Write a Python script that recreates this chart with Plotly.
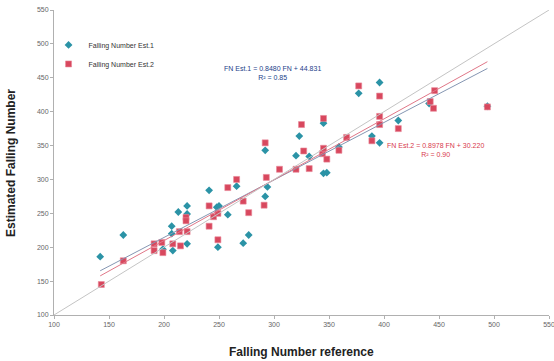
import plotly.graph_objects as go

# Est.1 (teal diamonds): reference FN vs estimated FN
est1_ref = [142, 163, 199, 207, 207, 208, 213, 221, 221, 221, 241, 248, 250, 249, 258,
            266, 272, 277, 292, 294, 292, 323, 320, 332, 345, 345, 348, 359, 377, 396,
            389, 396, 413, 441, 494]
est1_val = [186, 218, 197, 231, 220, 195, 252, 261, 249, 205, 284, 259, 261, 200, 248,
            290, 206, 218, 275, 289, 343, 364, 335, 334, 383, 309, 310, 348, 427, 443,
            364, 354, 387, 412, 408]

# Est.2 (red squares)
est2_ref = [143, 163, 191, 191, 198, 199, 208, 215, 214, 221, 220, 220, 241, 241, 245,
            249, 249, 258, 266, 272, 277, 291, 293, 292, 305, 320, 332, 325, 327, 344,
            345, 348, 359, 345, 366, 377, 396, 396, 396, 389, 413, 446, 442, 445, 494]
est2_val = [145, 180, 205, 195, 207, 192, 205, 202, 223, 223, 244, 239, 261, 231, 245,
            250, 211, 288, 300, 268, 251, 262, 303, 354, 315, 315, 316, 381, 342, 338,
            346, 330, 343, 390, 362, 438, 423, 393, 381, 357, 375, 431, 415, 405, 407]

# trendline equations as printed on the chart
fit1 = (0.8480, 44.831)
fit2 = (0.8978, 30.220)
fit_x = [142, 494]
one_to_one = [100, 550]

ticks = [100, 150, 200, 250, 300, 350, 400, 450, 500, 550]

FONT = "Arial, Liberation Sans, sans-serif"

fig = go.Figure()
fig.add_trace(go.Scatter(
    x=est1_ref, y=est1_val, mode="markers", name="Falling Number Est.1",
    marker=dict(symbol="diamond", size=6, color="#2b93a6"),
))
fig.add_trace(go.Scatter(
    x=est2_ref, y=est2_val, mode="markers", name="Falling Number Est.2",
    marker=dict(symbol="square", size=6, color="#d8485e",
                line=dict(color="#e98898", width=0.6)),
))
fig.add_trace(go.Scatter(
    x=fit_x, y=[fit1[0] * v + fit1[1] for v in fit_x], mode="lines",
    line=dict(color="#8596b2", width=1), showlegend=False, hoverinfo="skip",
))
fig.add_trace(go.Scatter(
    x=fit_x, y=[fit2[0] * v + fit2[1] for v in fit_x], mode="lines",
    line=dict(color="#e07788", width=1), showlegend=False, hoverinfo="skip",
))
fig.add_trace(go.Scatter(
    x=one_to_one, y=one_to_one, mode="lines",
    line=dict(color="#c4c4c4", width=1), showlegend=False, hoverinfo="skip",
))

axis_common = dict(
    range=[100, 550], tickvals=ticks, showgrid=False, zeroline=False,
    showline=True, linecolor="#b0b0b0", linewidth=1,
    ticks="outside", ticklen=3, tickcolor="#b0b0b0",
    ticklabeloverflow="allow",
    tickfont=dict(family=FONT, size=7, color="#666666"),
)
fig.update_xaxes(**axis_common)
fig.update_yaxes(**axis_common)

fig.add_annotation(
    x=299, y=457, xref="x", yref="y", showarrow=False,
    text="FN Est.1 = 0.8480 FN + 44.831<br>R² = 0.85",
    font=dict(family=FONT, size=7, color="#233f8a"), align="center",
)
fig.add_annotation(
    x=447, y=343, xref="x", yref="y", showarrow=False,
    text="FN Est.2 = 0.8978 FN + 30.220<br>R² = 0.90",
    font=dict(family=FONT, size=7, color="#d83a4e"), align="center",
)
fig.add_annotation(
    x=0.5, y=-0.121, xref="paper", yref="paper", showarrow=False,
    xanchor="center", yanchor="middle",
    text="<b>Falling Number reference</b>",
    font=dict(family=FONT, size=12, color="#222222"),
)
fig.add_annotation(
    x=-0.087, y=0.498, xref="paper", yref="paper", showarrow=False,
    xanchor="center", yanchor="middle",
    text="<b>Estimated Falling Number</b>", textangle=-90,
    font=dict(family=FONT, size=12, color="#222222"),
)

fig.update_layout(
    width=554, height=361,
    margin=dict(l=54, r=5, t=10, b=46, autoexpand=False),
    paper_bgcolor="white", plot_bgcolor="white",
    showlegend=True,
    legend=dict(x=-0.011, y=0.933, xanchor="left", yanchor="top",
                bgcolor="rgba(0,0,0,0)",
                font=dict(family=FONT, size=7, color="#333333")),
)

# remove the browser's default 8px body margin so the figure fills the window
fig.write_html("out.html",
               config={"displayModeBar": False},
               post_script="document.body.style.margin='0px';")
